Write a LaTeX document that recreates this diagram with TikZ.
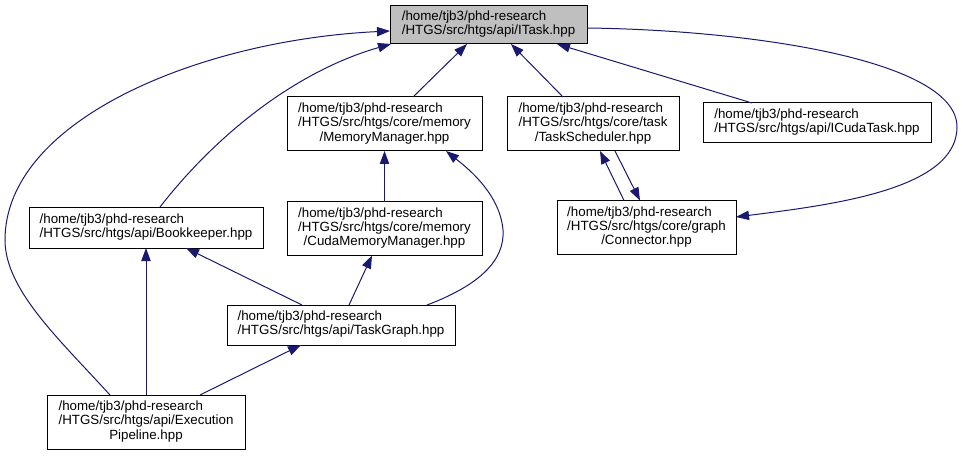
\documentclass[tikz,border=0pt]{standalone}
\usepackage{fontspec}
\setmainfont{Liberation Sans}
\usetikzlibrary{arrows.meta,calc}
\definecolor{navy}{RGB}{25,25,112}
\definecolor{boxgray}{RGB}{191,191,191}
\tikzset{
  box/.style={draw=black, line width=0.75pt, inner sep=0pt, outer sep=0pt, fill=white,
    font={\fontsize{10}{10.7}\selectfont}, anchor=center},
  dep/.style={draw=navy, line width=0.75pt, -{Triangle[length=9.75pt,width=7pt]}}
}
\newcommand{\twol}[2]{\begin{tabular}{@{}l@{}}#1\\#2\end{tabular}}
\newcommand{\threel}[3]{\begin{tabular}{@{}l@{}}#1\\#2\\\multicolumn{1}{@{}c@{}}{#3}\end{tabular}}
\begin{document}
\begin{tikzpicture}[x=0.75pt,y=-0.75pt]
\useasboundingbox (0,0) rectangle (963,456);
\node[box, fill=boxgray, minimum width=147.75pt, minimum height=28.5pt] (itask) at (488.5,25)
  {\twol{/home/tjb3/phd-research}{/HTGS/src/htgs/api/ITask.hpp}};
\node[box, minimum width=146.25pt, minimum height=40.5pt] (mm) at (384.5,124)
  {\threel{/home/tjb3/phd-research}{/HTGS/src/htgs/core/memory}{/MemoryManager.hpp}};
\node[box, minimum width=129pt, minimum height=40.5pt] (ts) at (593,124)
  {\threel{/home/tjb3/phd-research}{/HTGS/src/htgs/core/task}{/TaskScheduler.hpp}};
\node[box, minimum width=171pt, minimum height=30pt] (icuda) at (817,123)
  {\twol{/home/tjb3/phd-research}{/HTGS/src/htgs/api/ICudaTask.hpp}};
\node[box, minimum width=175.5pt, minimum height=30.75pt] (bk) at (146,227.5)
  {\twol{/home/tjb3/phd-research}{/HTGS/src/htgs/api/Bookkeeper.hpp}};
\node[box, minimum width=146.25pt, minimum height=40.5pt] (cmm) at (384.5,228.5)
  {\threel{/home/tjb3/phd-research}{/HTGS/src/htgs/core/memory}{/CudaMemoryManager.hpp}};
\node[box, minimum width=134.25pt, minimum height=40.5pt] (conn) at (646.5,227.5)
  {\threel{/home/tjb3/phd-research}{/HTGS/src/htgs/core/graph}{/Connector.hpp}};
\node[box, minimum width=171pt, minimum height=30pt] (tg) at (341,325)
  {\twol{/home/tjb3/phd-research}{/HTGS/src/htgs/api/TaskGraph.hpp}};
\node[box, minimum width=148.5pt, minimum height=40.5pt] (ep) at (146,422)
  {\threel{/home/tjb3/phd-research}{/HTGS/src/htgs/api/Execution}{Pipeline.hpp}};
% edges
\draw[dep] ($(ep.north)+(-36,0)$) .. controls (60,340) and (5,290) .. (5,240)
  .. controls (5,120) and (200,40) .. ($(itask.west)+(0,6)$);
\draw[dep] ($(bk.north)+(14,0)$) .. controls (220,130) and (300,70) .. ($(itask.south west)+(1,0)$);
\draw[dep] ($(mm.north)+(28.5,0)$) -- ($(itask.south west)+(77,0)$);
\draw[dep] ($(ts.north)+(-30,0)$) -- ($(itask.south west)+(121,0)$);
\draw[dep] ($(icuda.north)+(-65,0)$) -- ($(itask.south west)+(167,0)$);
\draw[dep] ($(itask.east)+(0,3)$) .. controls (750,30) and (957,60) .. (957,127)
  .. controls (957,190) and (830,205) .. ($(conn.east)+(0,-10.5)$);
\draw[dep] ($(conn.north)+(-22.5,0)$) -- ($(ts.south)+(7,0)$);
\draw[dep] ($(ts.south)+(22,0)$) -- ($(conn.north)+(-6.5,0)$);
\draw[dep] (cmm.north) -- (mm.south);
\draw[dep] ($(tg.north)+(86,0)$) .. controls (480,285) and (505,260) .. (503,230)
  .. controls (500,195) and (470,170) .. ($(mm.south)+(61.5,0)$);
\draw[dep] ($(tg.north)+(8,0)$) -- ($(cmm.south)+(-12.5,0)$);
\draw[dep] ($(tg.north)+(-39,0)$) -- ($(bk.south)+(40,0)$);
\draw[dep] (ep.north) -- (bk.south);
\draw[dep] ($(ep.north)+(54,0)$) -- ($(tg.south)+(-40,0)$);
\end{tikzpicture}
\end{document}
